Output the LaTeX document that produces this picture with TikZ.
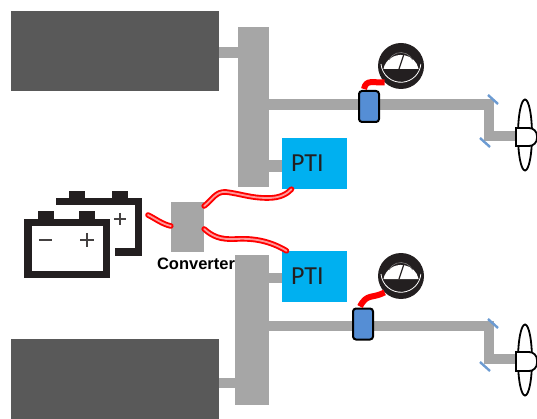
\documentclass[tikz,border=0pt]{standalone}
\usepackage{fontspec}
\usepackage{xcolor}
\setmainfont{Carlito}
\newfontfamily\labelfont{Liberation Sans}
\usetikzlibrary{
    calc,
    shapes.geometric,
    positioning
}
\definecolor{machinegray}{HTML}{595959}
\definecolor{shaftgray}{HTML}{A6A6A6}
\definecolor{ptiblue}{HTML}{00B0F0}
\definecolor{clutchblue}{HTML}{558ED5}
\definecolor{sealblue}{HTML}{6C9BD2}
\definecolor{iconblack}{HTML}{231F20}
\tikzset{
    engine/.style={draw=none, fill=machinegray, minimum width=208, minimum height=80, inner sep=0},
    block/.style={draw=none, fill=shaftgray, inner sep=0},
    pti/.style={draw=none, fill=ptiblue, minimum width=65, minimum height=51, inner sep=0, text width=47, align=left, font=\fontsize{26}{28}\selectfont, text=iconblack},
    clutch/.style={draw=black, line width=2, fill=clutchblue, rounded corners=3, minimum width=20, minimum height=31, inner sep=0},
    meter/.style={circle, draw=none, fill=iconblack, minimum size=46, inner sep=0},
    shaft/.style={draw=shaftgray, line width=10.5},
    seal/.style={draw=sealblue, line width=2.4},
    blade/.style={draw=black, line width=1.8, fill=white},
    cable/.style={draw=red, line width=1.9, double=white!60!red, double distance=1.8, line cap=round},
    feed/.style={draw=red, line width=6, line join=round},
    cell/.style={draw=iconblack, line width=7.5, line join=miter},
    lug/.style={draw=none, fill=iconblack, minimum width=16, minimum height=8, inner sep=0},
    sign/.style={draw=iconblack!85!white, line width=1.6}
}
\begin{document}
\begin{tikzpicture}[x=1pt, y=-1pt]
    \useasboundingbox (0, 0) rectangle (537, 419);

    \node[engine] (engineA) at (115, 51) {};
    \node[engine] (engineB) at (115, 379) {};
    \node[block, minimum width=31, minimum height=160] (gearA) at (253.5, 107) {};
    \node[block, minimum width=34, minimum height=150] (gearB) at (252, 329.5) {};
    \node[pti] (ptiA) at (314.5, 163.5) {PTI};
    \node[pti] (ptiB) at (314.5, 276.5) {PTI};
    \node[block, minimum width=33, minimum height=50] (converter) at (187.5, 227) {};
    \node[font=\labelfont\bfseries\fontsize{16.5}{18}\selectfont, text=black, inner sep=0] (converterlabel) at (196, 264) {Converter};

    % gearbox links
    \coordinate (linkA) at (0, 52.5);
    \coordinate (linkB) at (0, 383);
    \coordinate (linkC) at (0, 166);
    \coordinate (linkD) at (0, 278);
    \draw[shaft] (engineA.east |- linkA) -- (gearA.west |- linkA);
    \draw[shaft] (engineB.east |- linkB) -- (gearB.west |- linkB);
    \draw[shaft, line width=12] (gearA.east |- linkC) -- (ptiA.west |- linkC);
    \draw[shaft] (gearB.east |- linkD) -- (ptiB.west |- linkD);

    % shaft lines
    \coordinate (bendA) at (489, 104.5);
    \coordinate (bendB) at (489, 326);
    \coordinate (hubA) at (516, 136);
    \coordinate (hubB) at (516, 359);
    \draw[shaft, line join=miter] (gearA.east |- bendA) -- (bendA) -- (bendA |- hubA) -- (hubA);
    \draw[shaft, line join=miter] (gearB.east |- bendB) -- (bendB) -- (bendB |- hubB) -- (hubB);

    % seals
    \draw[seal] (488, 95) -- (498, 104);
    \draw[seal] (480, 138) -- (490, 147);
    \draw[seal] (488, 319) -- (498, 328);
    \draw[seal] (480, 362) -- (490, 371);

    % propellers
    \node[blade, ellipse, minimum width=14, minimum height=71, inner sep=0] (propA) at (525, 135) {};
    \node[blade, ellipse, minimum width=14, minimum height=71, inner sep=0] (propB) at (525, 360) {};
    \draw[blade] (516, 128) [rounded corners=8] -- (537, 128) -- (537, 146) [sharp corners] -- (516, 146) -- cycle;
    \draw[blade] (516, 352) [rounded corners=8] -- (537, 352) -- (537, 371) [sharp corners] -- (516, 371) -- cycle;

    % meters
    \node[meter] (meterA) at (401, 66) {};
    \node[meter] (meterB) at (401, 276) {};
    \foreach \mx/\my in {401/66, 401/276} {
        \draw[white, line width=0.8] (\mx, \my) ++(-20, -2) arc[start angle=185, end angle=355, x radius=20, y radius=-20];
        \fill[white] (\mx-17.5, \my+3) arc[start angle=170, end angle=10, x radius=17.8, y radius=-17] -- cycle;
        \draw[iconblack, line width=1.2] (\mx-2, \my+3) -- (\mx+3, \my-12);
        \draw[iconblack!60!white, line width=0.6] (\mx-12, \my-6) arc[start angle=155, end angle=25, x radius=13, y radius=-13];
    }

    \node[clutch] (clutchA) at (369, 106.5) {};
    \node[clutch] (clutchB) at (363, 324) {};
    \draw[feed] (clutchA.north) ++(-5, -1) .. controls (366, 79) and (373, 83) .. (meterA.south west);
    \draw[feed] (clutchB.north) ++(-3, -1) .. controls (367, 293) and (372, 299) .. (meterB.south west);

    % battery pack
    \draw[cell] (56, 201.75) -- (138.25, 201.75) -- (138.25, 252) -- (115, 252);
    \node[lug] (lugA) at (77, 195) {};
    \node[lug] (lugB) at (120, 195) {};
    \draw[sign] (114, 219) -- (126, 219);
    \draw[sign] (120, 213) -- (120, 225);
    \draw[cell, fill=white] (27.75, 222.75) rectangle (106.25, 274.25);
    \node[lug] (lugC) at (46, 215) {};
    \node[lug] (lugD) at (87, 215) {};
    \draw[sign] (39, 240) -- (52, 240);
    \draw[sign] (80, 240) -- (94, 240);
    \draw[sign] (87, 233) -- (87, 247);
    \coordinate (battery) at (148, 215);

    % power cables
    \draw[cable] (battery) .. controls (156, 219) and (162, 224) .. (converter.west |- 0, 226);
    \draw[cable] (converter.east |- 0, 206) .. controls (212, 200) and (216, 191) .. (226, 192) .. controls (242, 194) and (250, 198) .. (268, 198) .. controls (280, 198) and (287, 194) .. ($(ptiA.south)+(-23, 0)$);
    \draw[cable] (converter.east |- 0, 229) .. controls (212, 236) and (220, 240) .. (236, 239) .. controls (254, 238) and (270, 241) .. ($(ptiB.north)+(-28, 0)$);
\end{tikzpicture}
\end{document}
